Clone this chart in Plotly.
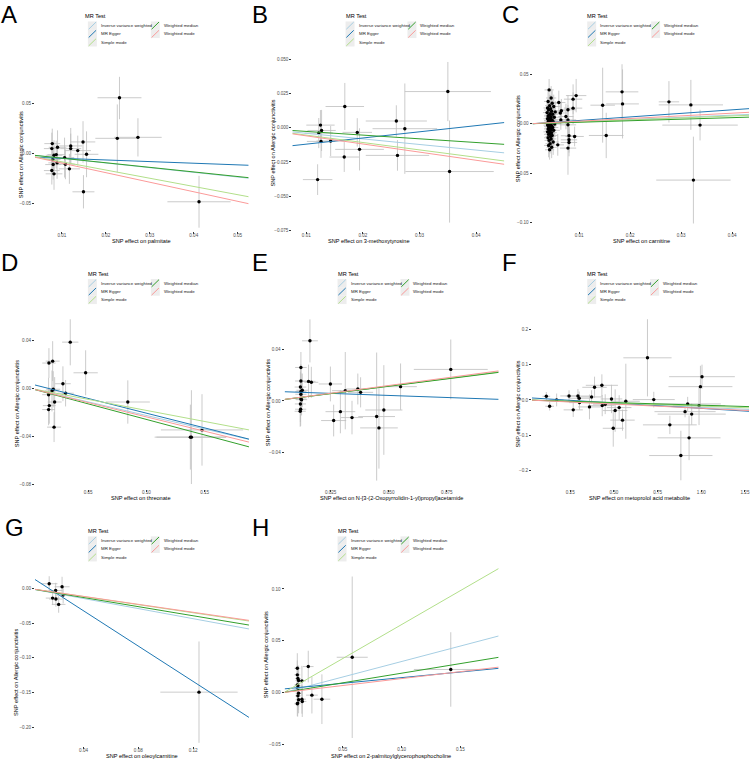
import plotly.graph_objects as go

W, H = 752, 761
FONT = "Liberation Sans, Arial, sans-serif"

methods = ["Inverse variance weighted", "MR Egger", "Simple mode", "Weighted median", "Weighted mode"]
colours = ["#a6cee3", "#1f78b4", "#b2df8a", "#33a02c", "#fb9a99"]
outcome_label = "SNP effect on Allergic conjunctivitis"

# ---------- A: palmitate ----------
a_bx = [0.0231, 0.0226, 0.0273, 0.0412, 0.0149, 0.0148, 0.0136, 0.0156, 0.0120, 0.0120, 0.0106, 0.0108,
        0.0117, 0.0090, 0.0078, 0.0077, 0.0082, 0.0087, 0.0089, 0.0080, 0.0077, 0.0082, 0.0079]
a_by = [0.0560, 0.0153, 0.0163, -0.0483, -0.0383, 0.0117, 0.0030, -0.0007, 0.0077, 0.0050, -0.0040, -0.0107,
        -0.0153, 0.0063, 0.0100, 0.0050, -0.0017, -0.0010, -0.0093, -0.0110, -0.0170, -0.0203, -0.0060]
a_sx = [0.0050, 0.0050, 0.0054, 0.0072, 0.0025, 0.0028, 0.0030, 0.0027, 0.0026, 0.0024, 0.0022, 0.0022,
        0.0024, 0.0020, 0.0018, 0.0018, 0.0019, 0.0020, 0.0020, 0.0018, 0.0018, 0.0019, 0.0018]
a_sy = [0.0215, 0.0340, 0.0192, 0.0260, 0.0167, 0.0208, 0.0150, 0.0230, 0.0180, 0.0150, 0.0200, 0.0150,
        0.0150, 0.0170, 0.0150, 0.0160, 0.0150, 0.0140, 0.0160, 0.0150, 0.0140, 0.0160, 0.0150]
a_slope = [-0.470, -0.164, -0.824, -0.460, -0.957]
a_icpt = [0, -0.0031, 0, 0, 0]

# ---------- B: 3-methoxytyrosine ----------
b_bx = [0.0350, 0.0353, 0.0259, 0.0274, 0.0261, 0.0168, 0.0190, 0.0194, 0.0167, 0.0120, 0.0125, 0.0127,
        0.0122, 0.0126, 0.0143]
b_by = [0.0264, -0.0320, 0.0049, -0.0007, -0.0202, 0.0155, -0.0034, -0.0158, -0.0214, -0.0379, 0.0019,
        -0.0020, -0.0039, -0.0100, -0.0097]
b_sx = [0.0076, 0.0078, 0.0054, 0.0057, 0.0056, 0.0034, 0.0026, 0.0043, 0.0026, 0.0026, 0.0025, 0.0025,
        0.0025, 0.0025, 0.0025]
b_sy = [0.0216, 0.0373, 0.0115, 0.0330, 0.0112, 0.0172, 0.0104, 0.0154, 0.0109, 0.0112, 0.0110, 0.0150,
        0.0110, 0.0120, 0.0110]
b_slope = [-0.408, 0.451, -0.540, -0.270, -0.594]
b_icpt = [0, -0.0165, 0, 0, 0]

# ---------- C: carnitine ----------
c_bx = [0.0324, 0.0319, 0.0337, 0.0276, 0.0184, 0.0185, 0.0146, 0.0153, 0.0094, 0.0088, 0.0091, 0.0080,
        0.0080, 0.0080, 0.0078, 0.0078, 0.0078, 0.0078, 0.0088, 0.0074, 0.0065, 0.0063, 0.0060, 0.0058, 0.0064,
        0.0041, 0.0045, 0.0039, 0.0047, 0.0042, 0.0050, 0.0038, 0.0044, 0.0040, 0.0046, 0.0053, 0.0037,
        0.0043, 0.0048, 0.0041, 0.0039, 0.0045, 0.0051, 0.0042, 0.0038, 0.0044, 0.0047, 0.0040, 0.0043,
        0.0049, 0.0039, 0.0045, 0.0041, 0.0052, 0.0043, 0.0038, 0.0046, 0.0040, 0.0044, 0.0048, 0.0041,
        0.0039, 0.0045, 0.0050, 0.0042, 0.0038, 0.0046, 0.0043, 0.0040, 0.0047, 0.0044, 0.0039, 0.0045,
        0.0041, 0.0049, 0.0043, 0.0040, 0.0046, 0.0042]
c_by = [-0.0570, 0.0192, -0.0013, 0.0223, 0.0324, 0.0202, 0.0189, -0.0118, 0.0286, 0.0250, -0.0128, -0.0121,
        -0.0162, -0.0189, -0.0246, -0.0010, 0.0040, 0.0142, 0.0159, 0.0074, 0.0132, 0.0110, 0.0216, -0.0213,
        0.0040,
        0.0344, 0.0262, 0.0227, 0.0209, 0.0184, 0.0176, 0.0161, 0.0153, 0.0139, 0.0128, 0.0121, 0.0114,
        0.0103, 0.0097, 0.0088, 0.0079, 0.0072, 0.0066, 0.0058, 0.0051, 0.0046, 0.0039, 0.0033, 0.0027,
        0.0021, 0.0016, 0.0009, 0.0004, -0.0002, -0.0008, -0.0013, -0.0019, -0.0026, -0.0031, -0.0037,
        -0.0044, -0.0052, -0.0058, -0.0066, -0.0073, -0.0081, -0.0089, -0.0098, -0.0107, -0.0118, -0.0129,
        -0.0141, -0.0153, -0.0168, -0.0184, -0.0201, -0.0219, -0.0238, -0.0263]
c_sx = [0.0073, 0.0063, 0.0074, 0.0020, 0.0032, 0.0032, 0.0024, 0.0034, 0.0020, 0.0018, 0.0018, 0.0016,
        0.0016, 0.0016, 0.0016, 0.0016, 0.0016, 0.0016, 0.0018, 0.0015, 0.0014, 0.0014, 0.0013, 0.0012, 0.0013,
        0.0009, 0.0010, 0.0008, 0.0011, 0.0009, 0.0012, 0.0008, 0.0010, 0.0009, 0.0010, 0.0012, 0.0008,
        0.0009, 0.0011, 0.0009, 0.0008, 0.0010, 0.0012, 0.0009, 0.0008, 0.0010, 0.0011, 0.0009, 0.0009,
        0.0011, 0.0008, 0.0010, 0.0009, 0.0012, 0.0009, 0.0008, 0.0010, 0.0009, 0.0010, 0.0011, 0.0009,
        0.0008, 0.0010, 0.0012, 0.0009, 0.0008, 0.0010, 0.0009, 0.0009, 0.0011, 0.0010, 0.0008, 0.0010,
        0.0009, 0.0011, 0.0009, 0.0009, 0.0010, 0.0009]
c_sy = [0.0440, 0.0253, 0.0155, 0.0210, 0.0280, 0.0350, 0.0380, 0.0230, 0.0169, 0.0150, 0.0100, 0.0120,
        0.0130, 0.0140, 0.0270, 0.0150, 0.0150, 0.0150, 0.0160, 0.0130, 0.0120, 0.0110, 0.0120, 0.0110, 0.0100,
        0.0110, 0.0120, 0.0100, 0.0130, 0.0110, 0.0120, 0.0090, 0.0140, 0.0100, 0.0120, 0.0110, 0.0090,
        0.0130, 0.0120, 0.0100, 0.0110, 0.0120, 0.0130, 0.0100, 0.0090, 0.0110, 0.0120, 0.0100, 0.0110,
        0.0130, 0.0090, 0.0120, 0.0100, 0.0120, 0.0110, 0.0090, 0.0130, 0.0100, 0.0110, 0.0120, 0.0100,
        0.0110, 0.0120, 0.0130, 0.0100, 0.0090, 0.0120, 0.0110, 0.0100, 0.0130, 0.0110, 0.0100, 0.0120,
        0.0110, 0.0130, 0.0100, 0.0120, 0.0110, 0.0100]
c_slope = [0.220, 0.360, 0.200, 0.157, 0.270]
c_icpt = [0, -0.0002, 0, 0, 0]

# ---------- D: threonate ----------
d_bx = [0.0346, 0.0478, 0.0283, 0.0306, 0.0163, 0.0195, 0.0200, 0.0189, 0.0160, 0.0212, 0.0166, 0.0160,
        0.0207, 0.0840, 0.1477, 0.1377, 0.1386]
d_by = [0.0384, 0.0129, 0.0038, -0.0041, 0.0210, 0.0226, -0.0008, -0.0022, -0.0053, -0.0114, -0.0144,
        -0.0177, -0.0323, -0.0114, -0.0346, -0.0406, -0.0406]
d_sx = [0.0070, 0.0104, 0.0067, 0.0070, 0.0057, 0.0060, 0.0060, 0.0060, 0.0055, 0.0060, 0.0055, 0.0055,
        0.0060, 0.0189, 0.0353, 0.0307, 0.0300]
d_sy = [0.0193, 0.0187, 0.0145, 0.0110, 0.0124, 0.0166, 0.0150, 0.0170, 0.0140, 0.0207, 0.0150, 0.0130,
        0.0124, 0.0180, 0.0297, 0.0270, 0.0390]
d_slope = [-0.226, -0.245, -0.184, -0.259, -0.238]
d_icpt = [0, 0.0038, 0, 0, 0]

# ---------- E: N-[3-(2-Oxopyrrolidin-1-yl)propyl]acetamide ----------
e_bx = [0.0161, 0.0767, 0.0551, 0.0379, 0.0367, 0.0313, 0.0249, 0.0292, 0.0263, 0.0342, 0.0448, 0.0458,
        0.0479, 0.0155, 0.0167, 0.0122, 0.0122, 0.0120, 0.0128, 0.0122, 0.0122, 0.0122, 0.0125, 0.0120,
        0.0121, 0.0119]
e_by = [0.0467, 0.0245, 0.0111, 0.0067, 0.0093, 0.0080, 0.0132, -0.0083, -0.0152, -0.0129, -0.0121,
        -0.0209, -0.0070, 0.0152, 0.0145, 0.0260, 0.0155, 0.0108, 0.0083, 0.0074, 0.0052, 0.0015, 0.0010,
        -0.0023, -0.0064, -0.0080]
e_sx = [0.0034, 0.0159, 0.0070, 0.0054, 0.0050, 0.0057, 0.0050, 0.0064, 0.0054, 0.0047, 0.0079, 0.0081,
        0.0080, 0.0030, 0.0030, 0.0025, 0.0025, 0.0025, 0.0025, 0.0024, 0.0024, 0.0024, 0.0024, 0.0024,
        0.0024, 0.0024]
e_sy = [0.0168, 0.0232, 0.0180, 0.0117, 0.0120, 0.0300, 0.0135, 0.0168, 0.0123, 0.0130, 0.0497, 0.0316,
        0.0348, 0.0130, 0.0120, 0.0120, 0.0130, 0.0120, 0.0130, 0.0140, 0.0120, 0.0130, 0.0120, 0.0140,
        0.0130, 0.0120]
e_slope = [0.233, -0.064, 0.231, 0.228, 0.240]
e_icpt = [0, 0.0075, 0, 0, 0]

# ---------- F: metoprolol acid metabolite ----------
f_bx = [0.692, 1.004, 0.995, 0.431, 0.389, 0.372, 0.294, 0.243, 0.113, 0.132, 0.172, 0.301, 0.303, 0.267,
        0.360, 0.433, 0.450, 0.486, 0.507, 0.530, 0.549, 0.496, 0.568, 0.728, 0.820, 0.883, 0.930, 0.907,
        0.922, 0.945, 0.987]
f_by = [0.1190, 0.0657, 0.0376, 0.0413, 0.0357, 0.0085, 0.0110, 0.0113, 0.0104, -0.0178, 0.0000, 0.0047,
        -0.0075, -0.0280, -0.0197, -0.0160, -0.0120, 0.0028, -0.0300, -0.0216, -0.0570, -0.0800, -0.0037,
        0.0010, -0.0704, -0.1570, -0.1070, -0.0330, -0.0113, -0.0400, -0.0160]
f_sx = [0.138, 0.188, 0.183, 0.092, 0.070, 0.060, 0.070, 0.050, 0.022, 0.025, 0.040, 0.060, 0.060, 0.055,
        0.065, 0.070, 0.070, 0.062, 0.070, 0.070, 0.070, 0.060, 0.080, 0.120, 0.154, 0.181, 0.180, 0.175,
        0.190, 0.195, 0.150]
f_sy = [0.109, 0.034, 0.059, 0.031, 0.030, 0.019, 0.020, 0.016, 0.012, 0.012, 0.018, 0.019, 0.020, 0.020,
        0.035, 0.030, 0.028, 0.040, 0.060, 0.035, 0.030, 0.052, 0.106, 0.022, 0.026, 0.070, 0.063, 0.016,
        0.020, 0.030, 0.055]
f_slope = [-0.0210, -0.0303, -0.0175, -0.0148, -0.0235]
f_icpt = [0, 0.0065, 0, 0, 0]

# ---------- G: oleoylcarnitine ----------
g_bx = [0.1243, 0.0149, 0.0243, 0.0196, 0.0251, 0.0174, 0.0198, 0.0218]
g_by = [-0.1494, 0.0068, 0.0024, -0.0029, -0.0096, -0.0139, -0.0153, -0.0230]
g_sx = [0.0282, 0.0060, 0.0055, 0.0050, 0.0050, 0.0050, 0.0050, 0.0050]
g_sy = [0.0730, 0.0108, 0.0144, 0.0110, 0.0120, 0.0100, 0.0110, 0.0120]
g_slope = [-0.363, -1.271, -0.292, -0.328, -0.286]
g_icpt = [0, 0.0186, 0, 0, 0]

# ---------- H: 2-palmitoylglycerophosphocholine ----------
h_bx = [0.0580, 0.1418, 0.0206, 0.0322, 0.0237, 0.0152, 0.0113, 0.0113, 0.0118, 0.0124, 0.0118, 0.0118,
        0.0124, 0.0118, 0.0124, 0.0152, 0.0155, 0.0113, 0.0116, 0.0113]
h_by = [0.0340, 0.0222, 0.0250, -0.0065, -0.0026, 0.0112, 0.0234, 0.0170, 0.0135, 0.0115, 0.0064, 0.0035,
        -0.0007, -0.0033, -0.0071, -0.0065, -0.0087, -0.0110, -0.0103, 0.0073]
h_sx = [0.0132, 0.0314, 0.0045, 0.0071, 0.0050, 0.0035, 0.0025, 0.0025, 0.0025, 0.0026, 0.0025, 0.0025,
        0.0026, 0.0025, 0.0026, 0.0035, 0.0035, 0.0025, 0.0025, 0.0025]
h_sy = [0.0780, 0.0360, 0.0153, 0.0240, 0.0177, 0.0145, 0.0145, 0.0140, 0.0130, 0.0140, 0.0150, 0.0140,
        0.0130, 0.0140, 0.0130, 0.0140, 0.0150, 0.0120, 0.0130, 0.0140]
h_slope = [0.299, 0.109, 0.656, 0.186, 0.134]
h_icpt = [0, 0.0034, 0, 0, 0]

panels = [
    dict(tag="A", exposure="palmitate", bx=a_bx, by=a_by, sx=a_sx, sy=a_sy, slope=a_slope, icpt=a_icpt,
         xt=[0.01, 0.02, 0.03, 0.04, 0.05], yt=[-0.05, 0.00, 0.05], xf=".2f", yf=".2f"),
    dict(tag="B", exposure="3-methoxytyrosine", bx=b_bx, by=b_by, sx=b_sx, sy=b_sy, slope=b_slope, icpt=b_icpt,
         xt=[0.01, 0.02, 0.03, 0.04], yt=[-0.075, -0.05, -0.025, 0.0, 0.025, 0.05], xf=".2f", yf=".3f"),
    dict(tag="C", exposure="carnitine", bx=c_bx, by=c_by, sx=c_sx, sy=c_sy, slope=c_slope, icpt=c_icpt,
         xt=[0.01, 0.02, 0.03, 0.04], yt=[-0.10, -0.05, 0.00, 0.05], xf=".2f", yf=".2f"),
    dict(tag="D", exposure="threonate", bx=d_bx, by=d_by, sx=d_sx, sy=d_sy, slope=d_slope, icpt=d_icpt,
         xt=[0.05, 0.10, 0.15], yt=[-0.08, -0.04, 0.00, 0.04], xf=".2f", yf=".2f"),
    dict(tag="E", exposure="N-[3-(2-Oxopyrrolidin-1-yl)propyl]acetamide", bx=e_bx, by=e_by, sx=e_sx, sy=e_sy,
         slope=e_slope, icpt=e_icpt, xt=[0.025, 0.05, 0.075], yt=[-0.04, 0.00, 0.04], xf=".3f", yf=".2f"),
    dict(tag="F", exposure="metoprolol acid metabolite", bx=f_bx, by=f_by, sx=f_sx, sy=f_sy, slope=f_slope,
         icpt=f_icpt, xt=[0.25, 0.5, 0.75, 1.0, 1.25], yt=[-0.2, -0.1, 0.0, 0.1, 0.2], xf=".2f", yf=".1f"),
    dict(tag="G", exposure="oleoylcarnitine", bx=g_bx, by=g_by, sx=g_sx, sy=g_sy, slope=g_slope, icpt=g_icpt,
         xt=[0.04, 0.08, 0.12], yt=[-0.20, -0.15, -0.10, -0.05, 0.00], xf=".2f", yf=".2f"),
    dict(tag="H", exposure="2-palmitoylglycerophosphocholine", bx=h_bx, by=h_by, sx=h_sx, sy=h_sy,
         slope=h_slope, icpt=h_icpt, xt=[0.05, 0.10, 0.15], yt=[-0.05, 0.00, 0.05, 0.10], xf=".2f", yf=".2f"),
]

# layout geometry in pixels: plot rect (l, r, t, b), axis ranges, legend (title x, title y, key col1, key col2),
# x-title centre, y-title centre, panel tag (left, top)
geo = [
    dict(rect=(35, 249, 77, 232), xr=(0.00386, 0.0525), yr=(-0.078, 0.077),
         leg=(83, 16, 88, 151), xtt=(142, 241.5), ytt=(20.7, 155), tag=(0, 0)),
    dict(rect=(292.7, 505, 52, 232), xr=(0.00753, 0.04497), yr=(-0.0757, 0.0554),
         leg=(344.3, 16, 346, 408), xtt=(369.5, 241.5), ytt=(273.3, 143), tag=(251.5, 0)),
    dict(rect=(533.3, 750, 46, 232), xr=(0.00086, 0.0433), yr=(-0.109, 0.079),
         leg=(586, 16, 588, 652), xtt=(642, 241.5), ytt=(518.3, 139), tag=(501.5, 0)),
    dict(rect=(35, 249.3, 320, 490), xr=(0.0043, 0.188), yr=(-0.0835, 0.0575),
         leg=(86, 274.3, 88, 151), xtt=(141.3, 499.5), ytt=(17.3, 405), tag=(0, 249)),
    dict(rect=(285, 499.3, 320, 490), xr=(0.0052, 0.0973), yr=(-0.0681, 0.0635),
         leg=(336, 274.3, 338, 401), xtt=(392.2, 499.5), ytt=(268.3, 403.3), tag=(251.5, 249)),
    dict(rect=(532.7, 750, 312, 490), xr=(0.031, 1.273), yr=(-0.2507, 0.2507),
         leg=(586, 274.3, 588, 651), xtt=(640, 499.5), ytt=(518.3, 405), tag=(501.5, 249)),
    dict(rect=(35, 249.3, 576, 748), xr=(0.0045, 0.1608), yr=(-0.227, 0.0201),
         leg=(86, 532.3, 88, 151), xtt=(141.7, 757.5), ytt=(16.7, 674), tag=(4, 514.5)),
    dict(rect=(285, 499.3, 566, 747), xr=(0.0005, 0.1825), yr=(-0.0508, 0.1236),
         leg=(336, 532.3, 338, 401), xtt=(391.7, 757.5), ytt=(266.7, 656.7), tag=(251.5, 514.5)),
]


def px(x):
    return x / W


def py(y):
    return 1 - y / H


fig = go.Figure()
annotations = []
shapes = []
axis_common = dict(showgrid=False, zeroline=False, showline=False, ticks="outside", ticklen=2,
                   tickwidth=0.6, tickcolor="#333333", tickfont=dict(family=FONT, size=4.6, color="#4d4d4d"),
                   fixedrange=True)

for i, (p, g) in enumerate(zip(panels, geo), start=1):
    sfx = "" if i == 1 else str(i)
    xa, ya = "x" + sfx, "y" + sfx
    l, r, t, b = g["rect"]
    fig.update_layout(**{
        "xaxis" + sfx: dict(domain=[px(l), px(r)], range=list(g["xr"]), anchor=ya, tickvals=p["xt"],
                            tickformat=p["xf"], ticklabelstandoff=-3, **axis_common),
        "yaxis" + sfx: dict(domain=[py(b), py(t)], range=list(g["yr"]), anchor=xa, tickvals=p["yt"],
                            tickformat=p["yf"], **axis_common),
    })
    fig.add_trace(go.Scatter(
        x=p["bx"], y=p["by"], mode="markers", xaxis=xa, yaxis=ya, showlegend=False,
        marker=dict(color="black", size=3.4),
        error_x=dict(type="data", array=p["sx"], width=0, thickness=0.8, color="#bebebe"),
        error_y=dict(type="data", array=p["sy"], width=0, thickness=0.8, color="#bebebe"),
    ))
    x0, x1 = g["xr"]
    for m, col, s, c in zip(methods, colours, p["slope"], p["icpt"]):
        fig.add_trace(go.Scatter(x=[x0, x1], y=[c + s * x0, c + s * x1], mode="lines", xaxis=xa, yaxis=ya,
                                 name=m, showlegend=False, line=dict(color=col, width=1)))

    # legend drawn by hand, two columns like ggplot's guide_legend(ncol = 2)
    tx, ty, k1, k2 = g["leg"]
    annotations.append(dict(x=px(tx), y=py(ty), xref="paper", yref="paper", text="MR Test", showarrow=False,
                            xanchor="left", yanchor="middle", font=dict(family=FONT, size=5.6, color="black")))
    row_off = [9.7, 18.0, 26.4]
    slots = [(k1, 0), (k1, 1), (k1, 2), (k2, 0), (k2, 1)]
    for m, col, (kx, row) in zip(methods, colours, slots):
        yc = ty + row_off[row]
        shapes.append(dict(type="rect", xref="paper", yref="paper", x0=px(kx), x1=px(kx + 9),
                           y0=py(yc + 4.2), y1=py(yc - 4.2), fillcolor="#ededed", line=dict(width=0),
                           layer="below"))
        shapes.append(dict(type="line", xref="paper", yref="paper", x0=px(kx + 0.8), x1=px(kx + 8.2),
                           y0=py(yc + 3.6), y1=py(yc - 3.6), line=dict(color=col, width=1)))
        annotations.append(dict(x=px(kx + 11), y=py(yc), xref="paper", yref="paper", text=m, showarrow=False,
                                xanchor="left", yanchor="middle",
                                font=dict(family=FONT, size=4.4, color="#1a1a1a")))

    annotations.append(dict(x=px(g["xtt"][0]), y=py(g["xtt"][1]), xref="paper", yref="paper",
                            text="SNP effect on " + p["exposure"], showarrow=False, xanchor="center",
                            yanchor="middle", font=dict(family=FONT, size=5.6, color="black")))
    annotations.append(dict(x=px(g["ytt"][0]), y=py(g["ytt"][1]), xref="paper", yref="paper",
                            text=outcome_label, showarrow=False, textangle=-90, xanchor="center",
                            yanchor="middle", font=dict(family=FONT, size=5.6, color="black")))
    annotations.append(dict(x=px(g["tag"][0]), y=py(g["tag"][1]), xref="paper", yref="paper", text=p["tag"],
                            showarrow=False, xanchor="left", yanchor="top", borderpad=0,
                            font=dict(family=FONT, size=24, color="black")))

fig.update_layout(width=W, height=H, margin=dict(l=0, r=0, t=0, b=0), paper_bgcolor="white",
                  plot_bgcolor="white", showlegend=False, annotations=annotations, shapes=shapes,
                  hovermode=False)
# the default html page keeps an 8px body margin, which would push the figure off the window
fig.write_html("out.html", config={"displayModeBar": False},
               post_script="document.body.style.margin = '0';")
